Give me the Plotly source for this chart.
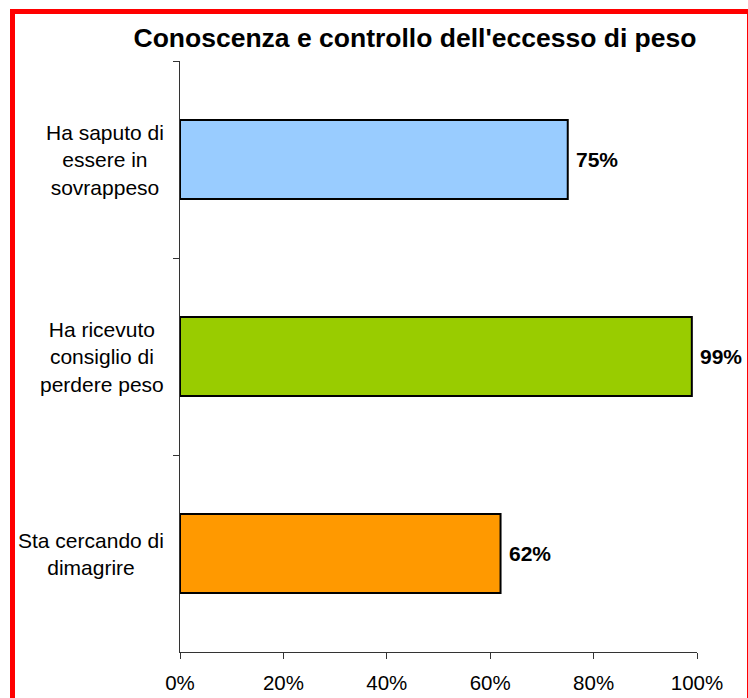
import plotly.graph_objects as go

categories = [
    "Ha saputo di<br>essere in<br>sovrappeso",
    "Ha ricevuto<br>consiglio di<br>perdere peso",
    "Sta cercando di<br>dimagrire",
]
values = [0.75, 0.99, 0.62]
colors = ["#99CCFF", "#99CC00", "#FF9900"]
x_ticks = [0, 0.2, 0.4, 0.6, 0.8, 1.0]
x_tick_labels = ["0%", "20%", "40%", "60%", "80%", "100%"]
title_text = "Conoscenza e controllo dell'eccesso di peso"

W, H = 748, 698
L, R, T, B = 180, 51, 61, 46
PW, PH = W - L - R, H - T - B

def px_x(p):
    return (p - L) / PW

def px_y(p):
    return (H - B - p) / PH

FONT = "Liberation Sans, Arial, sans-serif"

fig = go.Figure()
fig.add_trace(go.Bar(
    y=categories,
    x=values,
    orientation="h",
    marker=dict(color=colors, line=dict(color="#000000", width=2)),
    width=0.4,
    hoverinfo="skip",
))

annotations = []
for c, v in zip(categories, values):
    annotations.append(dict(
        x=v, y=c, xref="x", yref="y",
        text="<b>%d%%</b>" % round(v * 100),
        showarrow=False, xanchor="left", yanchor="middle",
        xshift=6, font=dict(family=FONT, size=21, color="#000000"),
    ))
    annotations.append(dict(
        x=px_x(166), y=c, xref="paper", yref="y",
        text=c, showarrow=False, xanchor="right", yanchor="middle",
        align="center", font=dict(family=FONT, size=21, color="#000000"),
    ))

fig.update_layout(
    template="none",
    width=W, height=H,
    margin=dict(l=L, r=R, t=T, b=B, pad=0),
    paper_bgcolor="#FFFFFF",
    plot_bgcolor="#FFFFFF",
    showlegend=False,
    title=dict(
        text="<b>" + title_text + "</b>",
        x=415 / W, xanchor="center", xref="container",
        y=1 - 38 / H, yanchor="middle", yref="container",
        font=dict(family=FONT, size=26.5, color="#000000"),
    ),
    xaxis=dict(
        range=[0, 1], tickvals=x_ticks, ticktext=x_tick_labels,
        automargin=False,
        showgrid=False, zeroline=False,
        showline=True, linecolor="#333333", linewidth=1,
        ticks="outside", ticklen=6, tickcolor="#333333", tickwidth=1,
        tickfont=dict(family=FONT, size=20.5, color="#000000"),
        ticklabelstandoff=6,
    ),
    yaxis=dict(
        categoryorder="array", categoryarray=categories,
        autorange="reversed", automargin=False,
        showgrid=False, zeroline=False,
        showline=True, linecolor="#333333", linewidth=1,
        ticks="outside", ticklen=6, tickcolor="#333333", tickwidth=1,
        tickson="boundaries",
        showticklabels=False,
    ),
    annotations=annotations,
    shapes=[dict(
        type="rect", xref="paper", yref="paper",
        x0=px_x(12.5), x1=px_x(749.5), y0=px_y(720), y1=px_y(11.5),
        line=dict(color="#FF0000", width=5), fillcolor="rgba(0,0,0,0)",
        layer="above",
    )],
)

fig.write_html(
    "out.html",
    config={"displayModeBar": False},
    post_script="document.body.style.margin='0';document.body.style.overflow='hidden';",
)
